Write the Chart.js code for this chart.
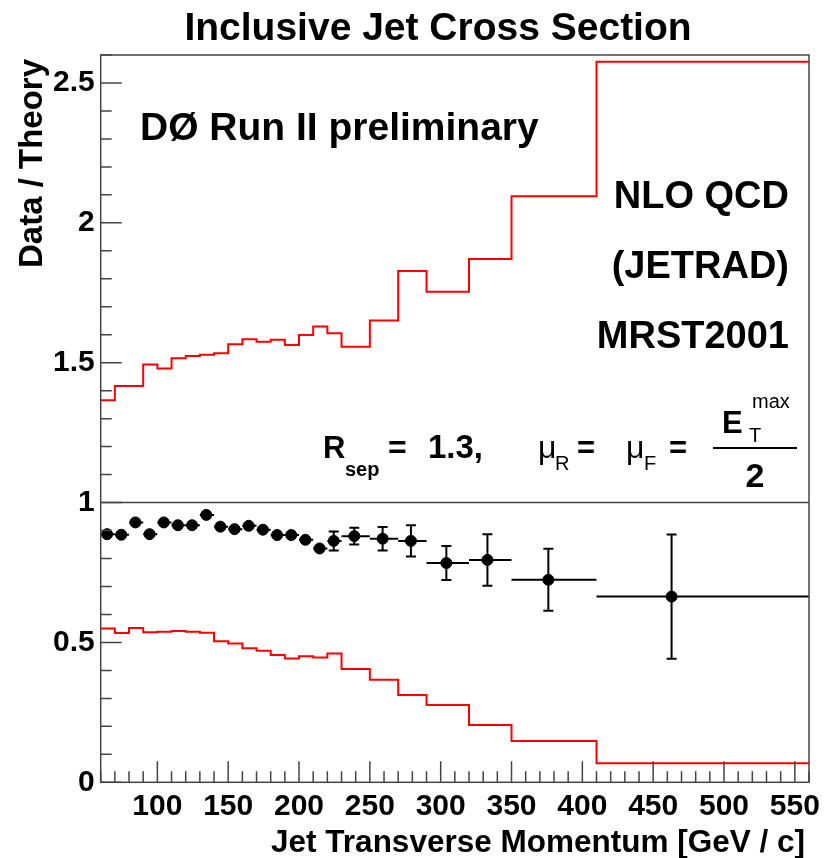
<!DOCTYPE html>
<html>
<head>
<meta charset="utf-8">
<title>Inclusive Jet Cross Section</title>
<script src="https://cdn.jsdelivr.net/npm/chart.js@4"></script>
<style>
  html, body { margin: 0; padding: 0; background: #fff; }
  #wrap { width: 824px; height: 858px; }
</style>
</head>
<body>
<div id="wrap"><canvas id="ratioChart" width="824" height="858"></canvas></div>
<script>
// Dữ liệu (GeV/c)
const BIN_EDGES = [60, 70, 80, 90, 100, 110, 120, 130, 140, 150, 160, 170, 180, 190, 200, 210, 220, 230, 250, 270, 290, 320, 350, 410, 560];

// tỉ số Data / Theory (điểm đen)
const POINT_X = [64.5, 74.5, 84.5, 94.5, 104.5, 114.5, 124.5, 134.5, 144.5, 154.5, 164.5, 174.5, 184.5, 194.5, 204.5, 214.5, 224.5, 239, 259, 279, 304, 333, 376, 463];
const RATIO = [0.887, 0.885, 0.929, 0.887, 0.929, 0.919, 0.919, 0.956, 0.914, 0.905, 0.917, 0.903, 0.884, 0.884, 0.867, 0.836, 0.863, 0.880, 0.871, 0.863, 0.784, 0.795, 0.724, 0.664];
const RATIO_ERR = [0.008, 0.008, 0.008, 0.008, 0.008, 0.008, 0.009, 0.009, 0.009, 0.010, 0.010, 0.011, 0.012, 0.013, 0.014, 0.016, 0.034, 0.030, 0.042, 0.056, 0.061, 0.092, 0.111, 0.222];

// dải sai số lý thuyết (đường đỏ)
const THEORY_HIGH = [1.366, 1.417, 1.417, 1.494, 1.479, 1.516, 1.524, 1.528, 1.534, 1.566, 1.584, 1.575, 1.582, 1.563, 1.599, 1.629, 1.605, 1.557, 1.651, 1.828, 1.754, 1.871, 2.095, 2.576];
const THEORY_LOW = [0.550, 0.534, 0.552, 0.536, 0.538, 0.541, 0.538, 0.535, 0.504, 0.496, 0.479, 0.470, 0.455, 0.443, 0.451, 0.446, 0.460, 0.405, 0.367, 0.312, 0.276, 0.205, 0.148, 0.068];

// trục
const X_TICKS = [100, 150, 200, 250, 300, 350, 400, 450, 500, 550];
const Y_TICKS = [0, 0.5, 1, 1.5, 2, 2.5];
const X_MIN = 60, X_MAX = 560, Y_MIN = 0, Y_MAX = 2.6;
const X_MINOR = 10, Y_MINOR = 0.1;
const UNITY = 1;

const FONT = '"Liberation Sans", Arial, Helvetica, sans-serif';
const FRAME_COLOR = '#444';

// histogram -> các điểm bậc thang (giá trị cuối lặp lại ở mép phải)
function toSteps(values) {
    const pts = values.map((v, i) => ({ x: BIN_EDGES[i], y: v }));
    pts.push({ x: BIN_EDGES[BIN_EDGES.length - 1], y: values[values.length - 1] });
    return pts;
}

// khung, vạch chia, thanh sai số và chữ
const rootStylePlugin = {
    id: 'rootStyle',
    afterDatasetsDraw(chart) {
        const { ctx, chartArea: a, scales } = chart;
        const xs = scales.x, ys = scales.y;
        ctx.save();

        // thanh sai số
        ctx.strokeStyle = '#000';
        ctx.lineWidth = 2;
        RATIO.forEach((v, i) => {
            const px = xs.getPixelForValue(POINT_X[i]);
            const py = ys.getPixelForValue(v);
            const x1 = xs.getPixelForValue(BIN_EDGES[i]);
            const x2 = xs.getPixelForValue(BIN_EDGES[i + 1]);
            const yTop = ys.getPixelForValue(v + RATIO_ERR[i]);
            const yBot = ys.getPixelForValue(v - RATIO_ERR[i]);
            ctx.beginPath();
            ctx.moveTo(x1, py); ctx.lineTo(x2, py);
            ctx.moveTo(px, yTop); ctx.lineTo(px, yBot);
            if (yBot - yTop > 12) {
                ctx.moveTo(px - 5, yTop); ctx.lineTo(px + 5, yTop);
                ctx.moveTo(px - 5, yBot); ctx.lineTo(px + 5, yBot);
            }
            ctx.stroke();
        });

        // khung
        ctx.strokeStyle = FRAME_COLOR;
        ctx.lineWidth = 1.5;
        ctx.strokeRect(a.left, a.top, a.right - a.left, a.bottom - a.top);

        // vạch chia (hướng vào trong)
        ctx.beginPath();
        for (let v = X_MIN; v <= X_MAX + 0.001; v += X_MINOR) {
            const px = xs.getPixelForValue(v);
            const len = X_TICKS.includes(Math.round(v)) ? 21 : 11;
            ctx.moveTo(px, a.bottom); ctx.lineTo(px, a.bottom - len);
        }
        for (let k = 0; k <= Math.round((Y_MAX - Y_MIN) / Y_MINOR); k++) {
            const v = Y_MIN + k * Y_MINOR;
            const py = ys.getPixelForValue(v);
            const major = Y_TICKS.some(t => Math.abs(t - v) < 1e-6);
            ctx.moveTo(a.left, py); ctx.lineTo(a.left + (major ? 21 : 11), py);
        }
        ctx.stroke();

        // chữ
        ctx.fillStyle = '#000';
        ctx.textBaseline = 'alphabetic';

        ctx.font = `bold 39px ${FONT}`;
        ctx.textAlign = 'center';
        ctx.fillText('Inclusive Jet Cross Section', 438, 40);

        ctx.textAlign = 'left';
        ctx.fillText('DØ Run II preliminary', 140, 140);

        ctx.font = `bold 38px ${FONT}`;
        ctx.textAlign = 'right';
        ctx.fillText('NLO QCD', 789, 208);
        ctx.fillText('(JETRAD)', 789, 278);
        ctx.fillText('MRST2001', 789, 348);

        ctx.font = `bold 31.5px ${FONT}`;
        ctx.fillText('Jet Transverse Momentum [GeV / c]', 805, 852);

        ctx.save();
        ctx.translate(42, 268);
        ctx.rotate(-Math.PI / 2);
        ctx.textAlign = 'left';
        ctx.font = `bold 33px ${FONT}`;
        ctx.fillText('Data / Theory', 0, 0);
        ctx.restore();

        // công thức R_sep = 1.3, mu_R = mu_F = E_T^max / 2
        ctx.textAlign = 'left';
        ctx.font = `bold 31px ${FONT}`;
        ctx.fillText('R', 323, 458);
        ctx.font = `bold 20px ${FONT}`;
        ctx.fillText('sep', 345, 476);
        ctx.font = `bold 32px ${FONT}`;
        ctx.fillText('=', 388, 458);
        ctx.font = `bold 33px ${FONT}`;
        ctx.fillText('1.3,', 428, 458);

        ctx.font = `32px ${FONT}`;
        ctx.fillText('μ', 538, 458);
        ctx.font = `20px ${FONT}`;
        ctx.fillText('R', 555, 470);
        ctx.font = `bold 31px ${FONT}`;
        ctx.fillText('=', 577, 458);
        ctx.font = `32px ${FONT}`;
        ctx.fillText('μ', 626, 458);
        ctx.font = `20px ${FONT}`;
        ctx.fillText('F', 644, 470);
        ctx.font = `bold 31px ${FONT}`;
        ctx.fillText('=', 669, 458);

        ctx.fillText('E', 722, 433);
        ctx.font = `20px ${FONT}`;
        ctx.fillText('max', 752, 408);
        ctx.fillText('T', 749, 442);
        ctx.fillRect(713, 447, 84, 2);
        ctx.font = `bold 34px ${FONT}`;
        ctx.textAlign = 'center';
        ctx.fillText('2', 755, 487);

        ctx.restore();
    }
};

const stepLine = (values) => ({
    type: 'line',
    data: toSteps(values),
    stepped: true,
    borderColor: '#ff0000',
    borderWidth: 2,
    pointRadius: 0,
    fill: false
});

new Chart(document.getElementById('ratioChart'), {
    type: 'scatter',
    data: {
        datasets: [
            {
                type: 'line',
                data: [{ x: X_MIN, y: UNITY }, { x: X_MAX, y: UNITY }],
                borderColor: FRAME_COLOR,
                borderWidth: 1.5,
                pointRadius: 0
            },
            stepLine(THEORY_HIGH),
            stepLine(THEORY_LOW),
            {
                data: RATIO.map((v, i) => ({ x: POINT_X[i], y: v })),
                backgroundColor: '#000',
                borderColor: '#000',
                pointRadius: 5.5,
                pointStyle: 'circle',
                showLine: false
            }
        ]
    },
    options: {
        responsive: false,
        animation: false,
        devicePixelRatio: 1,
        layout: { padding: { top: 55, right: 15, left: 0, bottom: 0 } },
        plugins: { legend: { display: false }, tooltip: { enabled: false }, title: { display: false } },
        scales: {
            x: {
                type: 'linear',
                position: 'bottom',
                min: X_MIN,
                max: X_MAX,
                grid: { display: false },
                border: { display: false },
                ticks: { font: { family: FONT, size: 30, weight: 'bold' }, color: '#000', padding: -2, maxRotation: 0 },
                afterBuildTicks: s => { s.ticks = X_TICKS.map(v => ({ value: v })); },
                afterFit: s => { s.height = 75.7; }
            },
            y: {
                min: Y_MIN,
                max: Y_MAX,
                grid: { display: false },
                border: { display: false },
                ticks: { font: { family: FONT, size: 30, weight: 'bold' }, color: '#000', padding: -2, callback: v => String(v) },
                afterBuildTicks: s => { s.ticks = Y_TICKS.map(v => ({ value: v })); },
                afterFit: s => { s.width = 100.7; }
            }
        }
    },
    plugins: [rootStylePlugin]
});
</script>
</body>
</html>
